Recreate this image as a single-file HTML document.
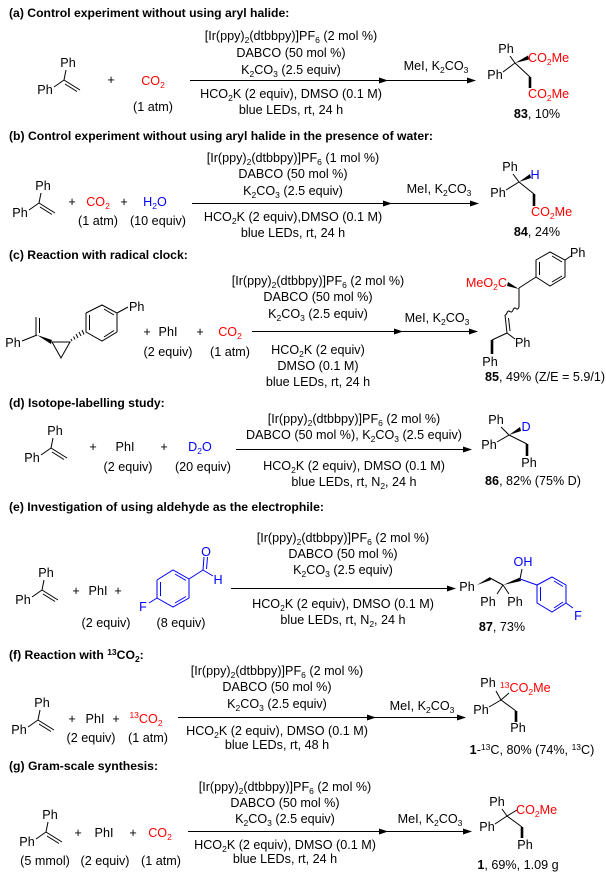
<!DOCTYPE html>
<html><head><meta charset="utf-8"><style>
html,body{margin:0;padding:0;background:#fff;}
svg{display:block;}
text{font-family:"Liberation Sans",Arial,sans-serif;font-size:12.6px;fill:#000;}
.t{font-weight:bold;font-size:12.2px;}
.c{text-anchor:middle;}
.r{fill:#f00;}
.b{fill:#00f;}
line,polyline,path{stroke:#000;stroke-width:1;fill:none;}
.bl line,.bl polygon,.bl polyline{stroke:#00f;}
.bd{stroke-width:2.6;}
</style></head><body>
<svg width="606" height="887" viewBox="0 0 606 887" xmlns="http://www.w3.org/2000/svg">
<defs>
<marker id="ah" markerWidth="9" markerHeight="6" refX="8" refY="3" orient="auto" markerUnits="userSpaceOnUse"><path d="M0,0 L9,3 L0,6 Z" style="fill:#000;stroke:none"/></marker>
</defs>

<!-- ================= (a) ================= -->
<text class="t" x="9" y="17">(a) Control experiment without using aryl halide:</text>
<g transform="translate(68,63)">
<text class="c" x="0" y="4">Ph</text><text class="c" x="-23" y="31">Ph</text>
<line x1="-2" y1="7" x2="-4" y2="17"/><line x1="-4" y1="17" x2="-14" y2="24"/><line x1="-4" y1="17" x2="12" y2="27"/><line x1="-3" y1="21" x2="9" y2="28.5"/>
</g>
<text class="c" x="111" y="84">+</text>
<text class="c r" x="153" y="85">CO<tspan font-size="8.5" dy="3">2</tspan></text>
<text class="c" x="153" y="111">(1 atm)</text>
<text class="c" x="291" y="40">[Ir(ppy)<tspan font-size="8.5" dy="3">2</tspan><tspan dy="-3">(dtbbpy)]PF</tspan><tspan font-size="8.5" dy="3">6</tspan><tspan dy="-3"> (2 mol %)</tspan></text>
<text class="c" x="291" y="57">DABCO (50 mol %)</text>
<text class="c" x="291" y="74">K<tspan font-size="8.5" dy="3">2</tspan><tspan dy="-3">CO</tspan><tspan font-size="8.5" dy="3">3</tspan><tspan dy="-3"> (2.5 equiv)</tspan></text>
<text class="c" x="291" y="98">HCO<tspan font-size="8.5" dy="3">2</tspan><tspan dy="-3">K (2 equiv), DMSO (0.1 M)</tspan></text>
<text class="c" x="291" y="114">blue LEDs, rt, 24 h</text>
<text class="c" x="436" y="70">MeI, K<tspan font-size="8.5" dy="3">2</tspan><tspan dy="-3">CO</tspan><tspan font-size="8.5" dy="3">3</tspan></text>
<line x1="190" y1="80.5" x2="387" y2="80.5" marker-end="url(#ah)"/><line x1="385" y1="80.5" x2="475" y2="80.5" marker-end="url(#ah)"/>
<!-- 83 -->
<text class="c" x="506" y="53">Ph</text><text class="c" x="495" y="79">Ph</text>
<line x1="515" y1="63" x2="510" y2="56"/><line x1="515" y1="63" x2="503" y2="72"/>
<polygon points="515,63 528,55.5 529,59.5" style="fill:#000"/>
<line x1="515" y1="63" x2="530" y2="77"/><line class="bd" x1="530" y1="77" x2="530" y2="88"/>
<text class="r" x="528" y="62">CO<tspan font-size="8.5" dy="3">2</tspan><tspan dy="-3">Me</tspan></text>
<text class="r" x="528" y="98">CO<tspan font-size="8.5" dy="3">2</tspan><tspan dy="-3">Me</tspan></text>
<text class="c" x="537" y="118"><tspan font-weight="bold">83</tspan>, 10%</text>

<!-- ================= (b) ================= -->
<text class="t" x="9" y="140">(b) Control experiment without using aryl halide in the presence of water:</text>
<g transform="translate(43,186)">
<text class="c" x="0" y="4">Ph</text><text class="c" x="-23" y="31">Ph</text>
<line x1="-2" y1="7" x2="-4" y2="17"/><line x1="-4" y1="17" x2="-14" y2="24"/><line x1="-4" y1="17" x2="12" y2="27"/><line x1="-3" y1="21" x2="9" y2="28.5"/>
</g>
<text class="c" x="72" y="206">+</text>
<text class="c r" x="98" y="206">CO<tspan font-size="8.5" dy="3">2</tspan></text>
<text class="c" x="124" y="206">+</text>
<text class="c b" x="155" y="206">H<tspan font-size="8.5" dy="3">2</tspan><tspan dy="-3">O</tspan></text>
<text class="c" x="98" y="225">(1 atm)</text>
<text class="c" x="158" y="225">(10 equiv)</text>
<text class="c" x="293" y="162">[Ir(ppy)<tspan font-size="8.5" dy="3">2</tspan><tspan dy="-3">(dtbbpy)]PF</tspan><tspan font-size="8.5" dy="3">6</tspan><tspan dy="-3"> (1 mol %)</tspan></text>
<text class="c" x="293" y="178">DABCO (50 mol %)</text>
<text class="c" x="293" y="195">K<tspan font-size="8.5" dy="3">2</tspan><tspan dy="-3">CO</tspan><tspan font-size="8.5" dy="3">3</tspan><tspan dy="-3"> (2.5 equiv)</tspan></text>
<text class="c" x="293" y="221">HCO<tspan font-size="8.5" dy="3">2</tspan><tspan dy="-3">K (2 equiv),DMSO (0.1 M)</tspan></text>
<text class="c" x="293" y="237">blue LEDs, rt, 24 h</text>
<text class="c" x="439" y="193">MeI, K<tspan font-size="8.5" dy="3">2</tspan><tspan dy="-3">CO</tspan><tspan font-size="8.5" dy="3">3</tspan></text>
<line x1="192" y1="203.5" x2="391" y2="203.5" marker-end="url(#ah)"/><line x1="389" y1="203.5" x2="478" y2="203.5" marker-end="url(#ah)"/>
<!-- 84 -->
<text class="c" x="510" y="171">Ph</text><text class="c" x="498" y="197">Ph</text>
<text class="c b" x="535" y="179">H</text>
<line x1="519" y1="182" x2="513" y2="174"/><line x1="519" y1="182" x2="506" y2="190"/>
<polygon points="519,182 530,174 531,178" style="fill:#000"/>
<line x1="519" y1="182" x2="534" y2="194"/><line class="bd" x1="534" y1="194" x2="534" y2="206"/>
<text class="r" x="531" y="216">CO<tspan font-size="8.5" dy="3">2</tspan><tspan dy="-3">Me</tspan></text>
<text class="c" x="537" y="236"><tspan font-weight="bold">84</tspan>, 24%</text>

<!-- ================= (c) ================= -->
<text class="t" x="9" y="259">(c) Reaction with radical clock:</text>
<text class="c" x="13" y="347">Ph</text>
<line x1="36" y1="335" x2="36" y2="317"/><line x1="39.5" y1="333" x2="39.5" y2="318"/>
<line x1="37" y1="335" x2="22" y2="341"/>
<polygon points="37,335 52,340 51,344" style="fill:#000"/>
<polyline points="52,342 70,342 61,358 52,342"/>
<g stroke="#000">
<line x1="72" y1="341" x2="71" y2="339"/><line x1="75" y1="339.5" x2="73.5" y2="336.5"/><line x1="78" y1="338" x2="76" y2="334"/><line x1="81" y1="336" x2="79" y2="332"/><line x1="84" y1="334.5" x2="82" y2="330"/>
</g>
<polyline points="86,313 102,305 117,313 117,332 102,341 86,332 86,313"/>
<line x1="89.5" y1="315" x2="89.5" y2="330"/><line x1="104" y1="309" x2="114" y2="315"/><line x1="104" y1="337" x2="114" y2="330.5"/>
<line x1="117" y1="313" x2="128" y2="307"/>
<text x="129" y="311">Ph</text>
<text class="c" x="147" y="336">+</text>
<text class="c" x="168" y="336">PhI</text>
<text class="c" x="200" y="336">+</text>
<text class="c r" x="230" y="336">CO<tspan font-size="8.5" dy="3">2</tspan></text>
<text class="c" x="168" y="356">(2 equiv)</text>
<text class="c" x="230" y="356">(1 atm)</text>
<text class="c" x="318" y="285">[Ir(ppy)<tspan font-size="8.5" dy="3">2</tspan><tspan dy="-3">(dtbbpy)]PF</tspan><tspan font-size="8.5" dy="3">6</tspan><tspan dy="-3"> (2 mol %)</tspan></text>
<text class="c" x="318" y="301">DABCO (50 mol %)</text>
<text class="c" x="318" y="318">K<tspan font-size="8.5" dy="3">2</tspan><tspan dy="-3">CO</tspan><tspan font-size="8.5" dy="3">3</tspan><tspan dy="-3"> (2.5 equiv)</tspan></text>
<text class="c" x="318" y="354">HCO<tspan font-size="8.5" dy="3">2</tspan><tspan dy="-3">K (2 equiv)</tspan></text>
<text class="c" x="318" y="370">DMSO (0.1 M)</text>
<text class="c" x="318" y="386">blue LEDs, rt, 24 h</text>
<text class="c" x="437" y="322">MeI, K<tspan font-size="8.5" dy="3">2</tspan><tspan dy="-3">CO</tspan><tspan font-size="8.5" dy="3">3</tspan></text>
<line x1="252" y1="331.5" x2="402" y2="331.5" marker-end="url(#ah)"/><line x1="400" y1="331.5" x2="477" y2="331.5" marker-end="url(#ah)"/>
<!-- 85 -->
<text class="r" x="507" y="287" text-anchor="end">MeO<tspan font-size="8.5" dy="3">2</tspan><tspan dy="-3">C</tspan></text>
<polygon points="519,289 508,282 507,286" style="fill:#000"/>
<line x1="519" y1="288" x2="536" y2="277"/>
<polyline points="536,277 536,260 550,252 565,260 565,277 550,286 536,277"/>
<line x1="539.5" y1="262" x2="539.5" y2="275"/><line x1="552" y1="256" x2="562" y2="262"/><line x1="552" y1="282" x2="562" y2="276"/>
<line x1="565" y1="260" x2="571" y2="256"/>
<text x="570" y="257">Ph</text>
<line x1="519" y1="288" x2="519" y2="307"/>
<path d="M519,307 q-1,3 -3,1.5 q-2,-1.5 -3,1.5 q-1,3 -3,1.5 q-2,-1.5 -3,1.5 q-1,2 -2,2"/>
<line x1="505" y1="315" x2="507" y2="333"/><line x1="508.5" y1="318" x2="510" y2="331"/>
<line x1="507" y1="333" x2="515" y2="339"/>
<text x="515" y="347">Ph</text>
<line x1="507" y1="333" x2="492" y2="340"/><line class="bd" x1="492" y1="340" x2="492" y2="354"/>
<text class="c" x="490" y="366">Ph</text>
<text class="c" x="545" y="381"><tspan font-weight="bold">85</tspan>, 49% (Z/E = 5.9/1)</text>

<!-- ================= (d) ================= -->
<text class="t" x="9" y="407">(d) Isotope-labelling study:</text>
<g transform="translate(55,431)">
<text class="c" x="0" y="4">Ph</text><text class="c" x="-23" y="31">Ph</text>
<line x1="-2" y1="7" x2="-4" y2="17"/><line x1="-4" y1="17" x2="-14" y2="24"/><line x1="-4" y1="17" x2="12" y2="27"/><line x1="-3" y1="21" x2="9" y2="28.5"/>
</g>
<text class="c" x="93" y="451">+</text>
<text class="c" x="125" y="451">PhI</text>
<text class="c" x="164" y="451">+</text>
<text class="c b" x="200" y="451">D<tspan font-size="8.5" dy="3">2</tspan><tspan dy="-3">O</tspan></text>
<text class="c" x="128" y="471">(2 equiv)</text>
<text class="c" x="203" y="471">(20 equiv)</text>
<text class="c" x="354" y="423">[Ir(ppy)<tspan font-size="8.5" dy="3">2</tspan><tspan dy="-3">(dtbbpy)]PF</tspan><tspan font-size="8.5" dy="3">6</tspan><tspan dy="-3"> (2 mol %)</tspan></text>
<text class="c" x="354" y="439">DABCO (50 mol %), K<tspan font-size="8.5" dy="3">2</tspan><tspan dy="-3">CO</tspan><tspan font-size="8.5" dy="3">3</tspan><tspan dy="-3"> (2.5 equiv)</tspan></text>
<text class="c" x="354" y="470">HCO<tspan font-size="8.5" dy="3">2</tspan><tspan dy="-3">K (2 equiv), DMSO (0.1 M)</tspan></text>
<text class="c" x="354" y="486">blue LEDs, rt, N<tspan font-size="8.5" dy="3">2</tspan><tspan dy="-3">, 24 h</tspan></text>
<line x1="236" y1="449.5" x2="471" y2="449.5" marker-end="url(#ah)"/>
<!-- 86 -->
<text class="c" x="496" y="424">Ph</text><text class="c" x="489" y="449">Ph</text>
<text class="c b" x="526" y="431">D</text>
<line x1="509" y1="435" x2="501" y2="427"/><line x1="509" y1="435" x2="497" y2="442"/>
<polygon points="509,435 520,427 521,431" style="fill:#000"/>
<line x1="509" y1="435" x2="527" y2="444"/><line class="bd" x1="527" y1="444" x2="527" y2="456"/>
<text class="c" x="529" y="467">Ph</text>
<text class="c" x="533" y="485"><tspan font-weight="bold">86</tspan>, 82% (75% D)</text>

<!-- ================= (e) ================= -->
<text class="t" x="9" y="511">(e) Investigation of using aldehyde as the electrophile:</text>
<g transform="translate(46,573)">
<text class="c" x="0" y="4">Ph</text><text class="c" x="-23" y="31">Ph</text>
<line x1="-2" y1="7" x2="-4" y2="17"/><line x1="-4" y1="17" x2="-14" y2="24"/><line x1="-4" y1="17" x2="12" y2="27"/><line x1="-3" y1="21" x2="9" y2="28.5"/>
</g>
<text class="c" x="76" y="595">+</text>
<text class="c" x="98" y="595">PhI</text>
<text class="c" x="118" y="595">+</text>
<g class="bl">
<polyline points="157,580 173,570 189,579 189,598 173,607 157,598 157,580"/>
<line x1="160.5" y1="582" x2="160.5" y2="596"/><line x1="175" y1="574" x2="186" y2="580.5"/><line x1="175" y1="603" x2="186" y2="596.5"/>
<line x1="189" y1="579" x2="203" y2="570"/><line x1="203" y1="570" x2="204" y2="557"/><line x1="206.5" y1="569" x2="207.5" y2="557"/>
<line x1="203" y1="570" x2="213" y2="576"/>
<line x1="157" y1="598" x2="149" y2="603"/>
</g>
<text class="c b" x="206" y="556">O</text>
<text class="c b" x="218" y="584">H</text>
<text class="c b" x="143" y="611">F</text>
<text class="c" x="106" y="627">(2 equiv)</text>
<text class="c" x="181" y="627">(8 equiv)</text>
<text class="c" x="343" y="542">[Ir(ppy)<tspan font-size="8.5" dy="3">2</tspan><tspan dy="-3">(dtbbpy)]PF</tspan><tspan font-size="8.5" dy="3">6</tspan><tspan dy="-3"> (2 mol %)</tspan></text>
<text class="c" x="343" y="558">DABCO (50 mol %)</text>
<text class="c" x="343" y="574">K<tspan font-size="8.5" dy="3">2</tspan><tspan dy="-3">CO</tspan><tspan font-size="8.5" dy="3">3</tspan><tspan dy="-3"> (2.5 equiv)</tspan></text>
<text class="c" x="343" y="608">HCO<tspan font-size="8.5" dy="3">2</tspan><tspan dy="-3">K (2 equiv), DMSO (0.1 M)</tspan></text>
<text class="c" x="343" y="624">blue LEDs,  rt, N<tspan font-size="8.5" dy="3">2</tspan><tspan dy="-3">, 24 h</tspan></text>
<line x1="231" y1="588.5" x2="455" y2="588.5" marker-end="url(#ah)"/>
<!-- 87 -->
<text class="c" x="467" y="591">Ph</text>
<polygon points="477,585 490,577 491,580" style="fill:#000"/>
<line x1="490" y1="578" x2="503" y2="585"/>
<polygon points="503,585 520,577.5 521,581" style="fill:#000"/>
<line x1="520" y1="579" x2="522" y2="569"/>
<text class="c b" x="523" y="566">OH</text>
<line x1="503" y1="585" x2="497" y2="594"/><line x1="503" y1="585" x2="509" y2="594"/>
<text class="c" x="488" y="606">Ph</text><text class="c" x="515" y="606">Ph</text>
<g class="bl">
<line x1="520" y1="579" x2="537" y2="585"/>
<polyline points="537,585 552,577 566,585 566,603 552,612 537,603 537,585"/>
<line x1="540.5" y1="587" x2="540.5" y2="601"/><line x1="554" y1="581" x2="563" y2="586.5"/><line x1="554" y1="608" x2="563" y2="602"/>
<line x1="566" y1="603" x2="573" y2="608"/>
</g>
<text class="c b" x="578" y="620">F</text>
<text class="c" x="502" y="631"><tspan font-weight="bold">87</tspan>, 73%</text>

<!-- ================= (f) ================= -->
<text class="t" x="9" y="659">(f) Reaction with <tspan font-size="8.5" dy="-4">13</tspan><tspan dy="4">CO</tspan><tspan font-size="8.5" dy="3">2</tspan><tspan dy="-3">:</tspan></text>
<g transform="translate(42,703)">
<text class="c" x="0" y="4">Ph</text><text class="c" x="-23" y="31">Ph</text>
<line x1="-2" y1="7" x2="-4" y2="17"/><line x1="-4" y1="17" x2="-14" y2="24"/><line x1="-4" y1="17" x2="12" y2="27"/><line x1="-3" y1="21" x2="9" y2="28.5"/>
</g>
<text class="c" x="72" y="723">+</text>
<text class="c" x="95" y="723">PhI</text>
<text class="c" x="116" y="723">+</text>
<text class="c r" x="146" y="723"><tspan font-size="8.5" dy="-5">13</tspan><tspan dy="5">CO</tspan><tspan font-size="8.5" dy="3">2</tspan></text>
<text class="c" x="91" y="742">(2 equiv)</text>
<text class="c" x="148" y="742">(1 atm)</text>
<text class="c" x="277" y="675">[Ir(ppy)<tspan font-size="8.5" dy="3">2</tspan><tspan dy="-3">(dtbbpy)]PF</tspan><tspan font-size="8.5" dy="3">6</tspan><tspan dy="-3"> (2 mol %)</tspan></text>
<text class="c" x="277" y="691">DABCO (50 mol %)</text>
<text class="c" x="277" y="708">K<tspan font-size="8.5" dy="3">2</tspan><tspan dy="-3">CO</tspan><tspan font-size="8.5" dy="3">3</tspan><tspan dy="-3"> (2.5 equiv)</tspan></text>
<text class="c" x="277" y="735">HCO<tspan font-size="8.5" dy="3">2</tspan><tspan dy="-3">K (2 equiv), DMSO (0.1 M)</tspan></text>
<text class="c" x="277" y="749">blue LEDs, rt, 48 h</text>
<text class="c" x="422" y="710">MeI, K<tspan font-size="8.5" dy="3">2</tspan><tspan dy="-3">CO</tspan><tspan font-size="8.5" dy="3">3</tspan></text>
<line x1="178" y1="717.5" x2="375" y2="717.5" marker-end="url(#ah)"/><line x1="373" y1="717.5" x2="465" y2="717.5" marker-end="url(#ah)"/>
<!-- 1-13C -->
<text class="c" x="488" y="687">Ph</text><text class="c" x="481" y="714">Ph</text>
<line x1="501" y1="700" x2="496" y2="691"/><line x1="501" y1="700" x2="489" y2="707"/>
<line x1="501" y1="700" x2="509" y2="693"/>
<text class="r" x="500" y="692"><tspan font-size="8.5" dy="-4">13</tspan><tspan dy="4">CO</tspan><tspan font-size="8.5" dy="3">2</tspan><tspan dy="-3">Me</tspan></text>
<line x1="501" y1="700" x2="516" y2="711"/><line class="bd" x1="516" y1="711" x2="516" y2="722"/>
<text class="c" x="518" y="732">Ph</text>
<text class="c" x="532" y="754"><tspan font-weight="bold">1</tspan>-<tspan font-size="8.5" dy="-4">13</tspan><tspan dy="4">C, 80% (74%, </tspan><tspan font-size="8.5" dy="-4">13</tspan><tspan dy="4">C)</tspan></text>

<!-- ================= (g) ================= -->
<text class="t" x="9" y="770">(g) Gram-scale synthesis:</text>
<g transform="translate(50,815)">
<text class="c" x="0" y="4">Ph</text><text class="c" x="-23" y="31">Ph</text>
<line x1="-2" y1="7" x2="-4" y2="17"/><line x1="-4" y1="17" x2="-14" y2="24"/><line x1="-4" y1="17" x2="12" y2="27"/><line x1="-3" y1="21" x2="9" y2="28.5"/>
</g>
<text class="c" x="78" y="837">+</text>
<text class="c" x="104" y="837">PhI</text>
<text class="c" x="133" y="837">+</text>
<text class="c r" x="160" y="837">CO<tspan font-size="8.5" dy="3">2</tspan></text>
<text class="c" x="45" y="865">(5 mmol)</text>
<text class="c" x="105" y="865">(2 equiv)</text>
<text class="c" x="161" y="865">(1 atm)</text>
<text class="c" x="285" y="791">[Ir(ppy)<tspan font-size="8.5" dy="3">2</tspan><tspan dy="-3">(dtbbpy)]PF</tspan><tspan font-size="8.5" dy="3">6</tspan><tspan dy="-3"> (2 mol %)</tspan></text>
<text class="c" x="285" y="807">DABCO (50 mol %)</text>
<text class="c" x="285" y="823">K<tspan font-size="8.5" dy="3">2</tspan><tspan dy="-3">CO</tspan><tspan font-size="8.5" dy="3">3</tspan><tspan dy="-3"> (2.5 equiv)</tspan></text>
<text class="c" x="285" y="849">HCO<tspan font-size="8.5" dy="3">2</tspan><tspan dy="-3">K (2 equiv), DMSO (0.1 M)</tspan></text>
<text class="c" x="285" y="863">blue LEDs, rt, 24 h</text>
<text class="c" x="430" y="823">MeI, K<tspan font-size="8.5" dy="3">2</tspan><tspan dy="-3">CO</tspan><tspan font-size="8.5" dy="3">3</tspan></text>
<line x1="188" y1="831.5" x2="387" y2="831.5" marker-end="url(#ah)"/><line x1="385" y1="831.5" x2="471" y2="831.5" marker-end="url(#ah)"/>
<!-- 1 -->
<text class="c" x="497" y="806">Ph</text><text class="c" x="487" y="831">Ph</text>
<line x1="507" y1="816" x2="502" y2="809"/><line x1="507" y1="816" x2="495" y2="824"/>
<line x1="507" y1="816" x2="517" y2="810"/>
<text class="r" x="516" y="814">CO<tspan font-size="8.5" dy="3">2</tspan><tspan dy="-3">Me</tspan></text>
<line x1="507" y1="816" x2="522" y2="827"/><line class="bd" x1="522" y1="827" x2="522" y2="838"/>
<text class="c" x="525" y="849">Ph</text>
<text class="c" x="518" y="869"><tspan font-weight="bold">1</tspan>, 69%, 1.09 g</text>
</svg>
</body></html>
